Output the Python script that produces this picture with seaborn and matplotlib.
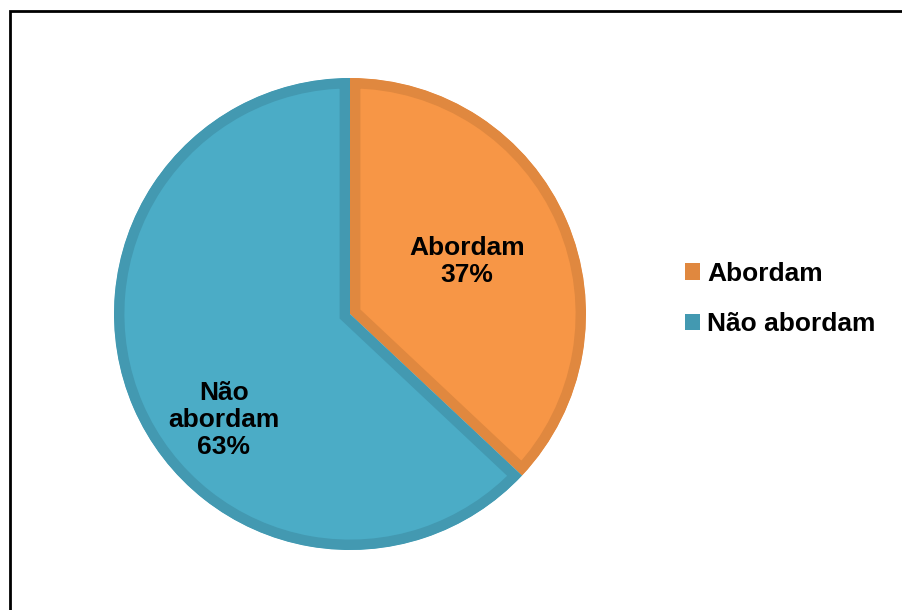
import matplotlib
matplotlib.use("Agg")
import matplotlib.pyplot as plt
from matplotlib.patches import Patch, Rectangle
import seaborn as sns

# data
categories = ["Abordam", "Não abordam"]
shares = [37, 63]
slice_labels = ["Abordam\n37%", "Não\nabordam\n63%"]

fill_colors = ["#F79646", "#4BACC6"]
edge_colors = ["#E0883F", "#4399B1"]
# label centres in axes data units (pie radius = 1)
label_pos = [(0.496, 0.222), (-0.534, -0.449)]

sns.set_style("white")
plt.rcParams["font.family"] = ["Liberation Sans", "DejaVu Sans"]

fig = plt.figure(figsize=(9.03, 6.10), dpi=100)
ax = fig.add_axes([114 / 903, 60 / 610, 472 / 903, 472 / 610])

wedges, _ = ax.pie(
    shares,
    colors=fill_colors,
    startangle=90,
    counterclock=False,
    radius=1,
    wedgeprops=dict(linewidth=15, edgecolor="none"),
)
# inner stroke: clip each wedge's outline to the wedge itself
for w, ec in zip(wedges, edge_colors):
    w.set_edgecolor(ec)
    w.set_clip_on(True)
    w.set_clip_path(w)

for txt, (x, y) in zip(slice_labels, label_pos):
    ax.text(x, y, txt, ha="center", va="center", fontsize=19,
            fontweight="bold", color="black", linespacing=1.15)

ax.set_xlim(-1, 1)
ax.set_ylim(-1, 1)
ax.set_aspect("equal")
ax.axis("off")

handles = [Patch(facecolor=c, edgecolor="none", label=lab)
           for c, lab in zip(edge_colors, categories)]
leg = fig.legend(handles=handles, loc="center left",
                 bbox_to_anchor=(685 / 903, 1 - 299 / 610), frameon=False,
                 prop=dict(size=19, weight="bold"),
                 handlelength=0.58, handleheight=0.58, handletextpad=0.25,
                 labelspacing=1.0, borderaxespad=0, borderpad=0)
for t in leg.get_texts():
    t.set_color("black")

# outer frame, running past the right and bottom edges
fig.patches.append(Rectangle((10 / 903, -0.2), 1.5, 1.2 - 11 / 610,
                             transform=fig.transFigure, fill=False,
                             edgecolor="black", linewidth=2.0))

fig.savefig("out.png", dpi=100)
